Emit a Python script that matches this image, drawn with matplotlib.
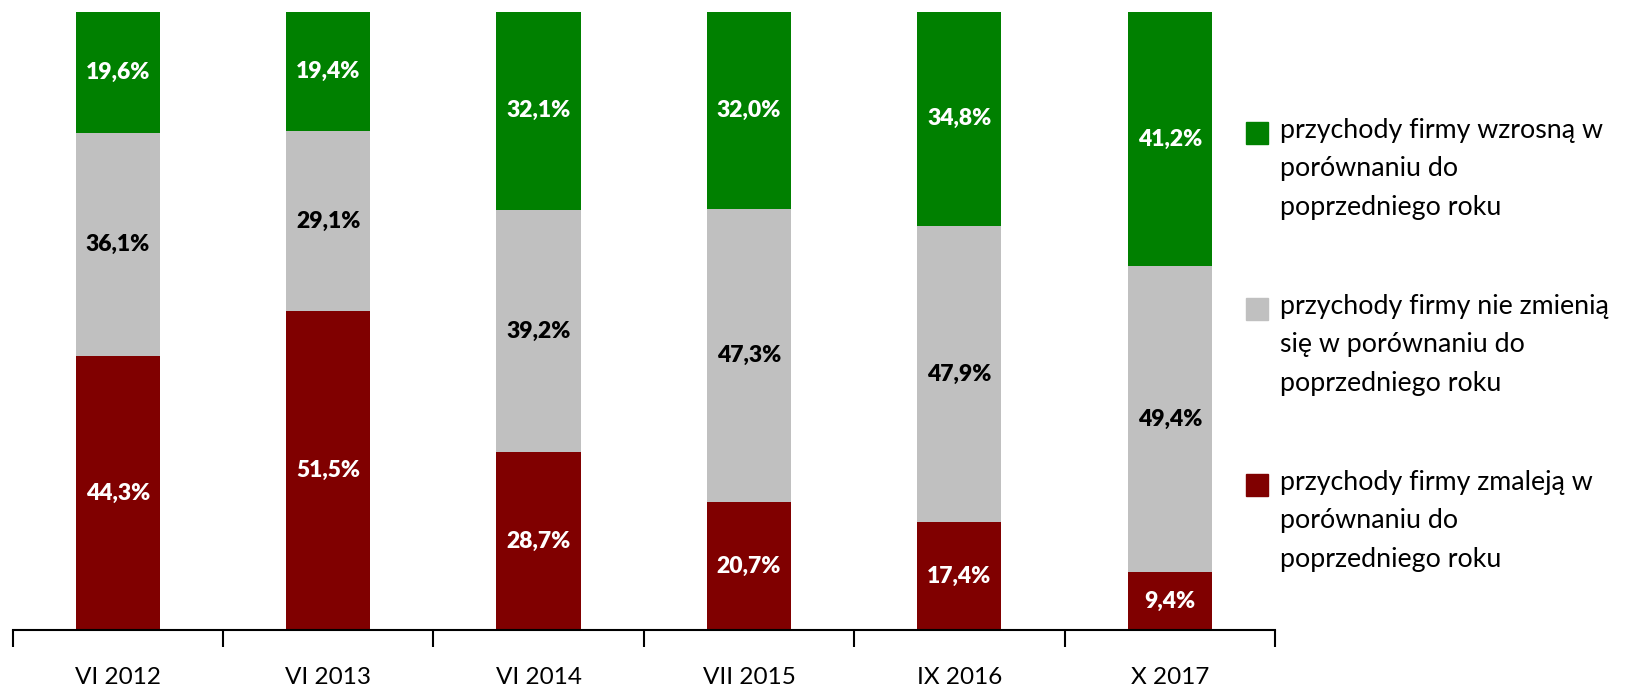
import matplotlib
matplotlib.use("Agg")
import matplotlib.pyplot as plt
import matplotlib.patches as mPatches
import numpy as np

plt.rcParams['font.family'] = ['Lato', 'DejaVu Sans']

# data
categories = ["VI 2012", "VI 2013", "VI 2014", "VII 2015", "IX 2016", "X 2017"]
zmaleja = [44.3, 51.5, 28.7, 20.7, 17.4, 9.4]
bez_zmian = [36.1, 29.1, 39.2, 47.3, 47.9, 49.4]
wzrosna = [19.6, 19.4, 32.1, 32.0, 34.8, 41.2]

series_labels = [
    "przychody firmy wzrosną w\nporównaniu do\npoprzedniego roku",
    "przychody firmy nie zmienią\nsię w porównaniu do\npoprzedniego roku",
    "przychody firmy zmaleją w\nporównaniu do\npoprzedniego roku",
]

RED = "#800000"
GRAY = "#C0C0C0"
GREEN = "#008000"

fig = plt.figure(figsize=(16.28, 6.90), dpi=100)
ax = fig.add_axes([12.5 / 1628, 1 - 630 / 690, (1275 - 12.5) / 1628, (630 - 11.5) / 690])

x = np.arange(len(categories))
w = 0.4
stack = [(zmaleja, RED, "white"), (bez_zmian, GRAY, "black"), (wzrosna, GREEN, "white")]
bottom = np.zeros(len(categories))
for vals, col, tcol in stack:
    vals = np.array(vals)
    ax.bar(x, vals, w, bottom=bottom, color=col, linewidth=0)
    for xi, b, v in zip(x, bottom, vals):
        ax.text(xi, b + v / 2, f"{v:.1f}%".replace(".", ","), ha="center", va="center",
                color=tcol, fontsize=16.5, fontweight=800)
    bottom = bottom + vals

ax.set_xlim(-0.5, len(categories) - 0.5)
ax.set_ylim(0, 100)
ax.set_yticks([])
for s in ["top", "right", "left"]:
    ax.spines[s].set_visible(False)
ax.spines["bottom"].set_linewidth(1.5)
ax.set_xticks(np.arange(-0.5, len(categories), 1.0), minor=False)
ax.set_xticklabels([])
ax.tick_params(axis="x", which="major", length=12, width=1.5, direction="out")
ax.set_xticks(x, minor=True)
ax.set_xticklabels(categories, minor=True, fontsize=17.5)
ax.tick_params(axis="x", which="minor", length=0, pad=27)

# legend
leg_cols = [GREEN, GRAY, RED]
leg_y = [133, 309, 485]
for col, lab, yy in zip(leg_cols, series_labels, leg_y):
    fig.patches.append(mPatches.Rectangle((1246 / 1628, 1 - (yy + 11) / 690), 22 / 1628, 22 / 690,
                                          transform=fig.transFigure, color=col))
    fig.text(1280 / 1628, 1 - (yy - 15) / 690, lab, ha="left", va="top", fontsize=19.3,
             linespacing=1.67)

fig.savefig("out.png", dpi=100)
